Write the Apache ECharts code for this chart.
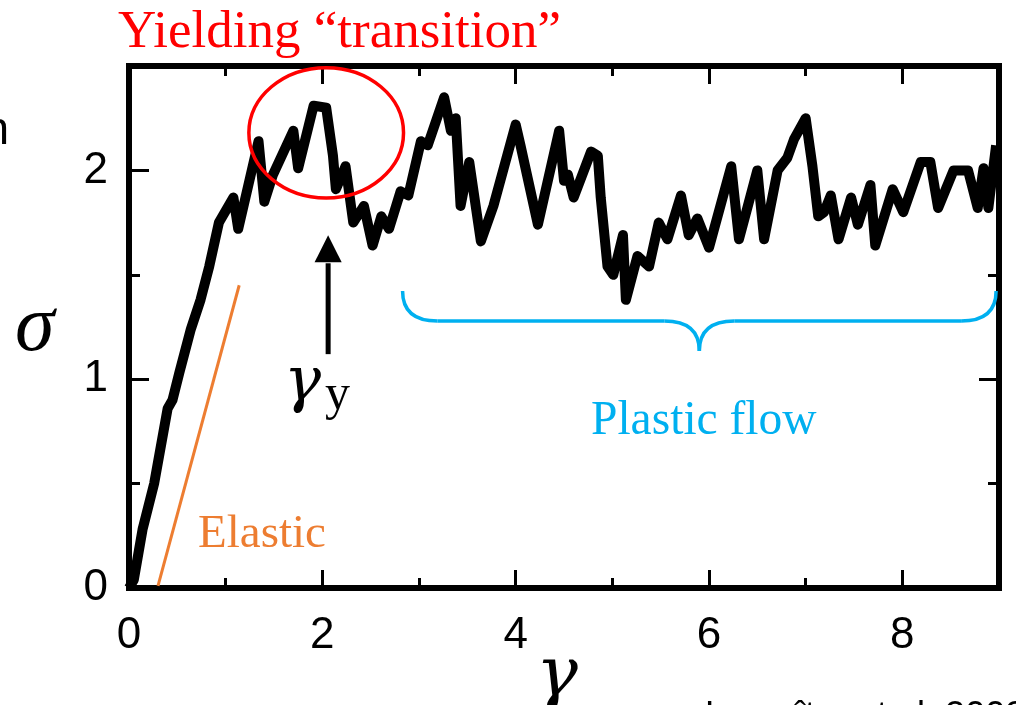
<!DOCTYPE html>
<html>
<head>
<meta charset="utf-8">
<script src="https://cdn.jsdelivr.net/npm/echarts@6/dist/echarts.min.js"></script>
<style>
html,body{margin:0;padding:0;background:#fff;}
#chart{width:1016px;height:705px;}
</style>
</head>
<body>
<div id="chart"></div>
<script>
// ---- data ----
const gamma = [0.00,0.05,0.14,0.26,0.40,0.45,0.52,0.64,0.74,0.83,0.93,1.08,1.13,1.34,1.40,1.49,1.70,1.75,1.91,2.04,2.11,2.14,2.24,2.32,2.43,2.52,2.61,2.69,2.81,2.89,3.02,3.09,3.26,3.33,3.38,3.43,3.52,3.64,3.77,4.00,4.05,4.23,4.45,4.50,4.54,4.60,4.78,4.85,4.88,4.95,5.01,5.11,5.14,5.26,5.38,5.48,5.57,5.71,5.79,5.88,6.00,6.23,6.31,6.50,6.57,6.71,6.81,6.88,7.00,7.07,7.13,7.19,7.26,7.34,7.47,7.54,7.67,7.72,7.90,8.01,8.19,8.29,8.37,8.53,8.68,8.78,8.84,8.89,8.97];
const sigma = [0.00,0.04,0.28,0.50,0.86,0.90,1.03,1.24,1.38,1.54,1.75,1.87,1.72,2.14,1.85,1.98,2.19,2.01,2.31,2.30,2.07,1.91,2.02,1.75,1.83,1.64,1.78,1.72,1.90,1.88,2.14,2.12,2.35,2.19,2.25,1.83,2.04,1.66,1.83,2.22,2.12,1.74,2.19,1.95,1.98,1.87,2.09,2.07,1.87,1.54,1.50,1.69,1.38,1.59,1.54,1.75,1.67,1.88,1.69,1.77,1.63,2.02,1.67,2.00,1.67,2.00,2.06,2.15,2.25,2.02,1.78,1.80,1.88,1.67,1.87,1.74,1.93,1.64,1.91,1.80,2.04,2.04,1.82,2.00,2.00,1.82,2.01,1.82,2.12];
const elasticGamma = [0.30, 1.14];
const elasticSigma = [0.01, 1.45];
const xTickLabels = ['0','2','4','6','8'];
const yTickLabels = ['0','1','2'];

const SANS = 'Liberation Sans, Arial, sans-serif';
const SERIF = 'Liberation Serif, Times New Roman, serif';
const GREEK = 'DejaVu Serif, Liberation Serif, serif';

const chart = echarts.init(document.getElementById('chart'), null, {renderer:'canvas'});

function xAxisDef(pos, interval, len, labels){
  return {
    type:'value', position:pos, min:0, max:9, interval:interval,
    axisLine:{show:false, onZero:false},
    splitLine:{show:false},
    axisTick:{show:true, inside:true, length:len, lineStyle:{color:'#000', width:3}},
    axisLabel:{show:labels, margin:26, fontSize:44, color:'#000', fontFamily:SANS,
      formatter:function(v){ const s=String(v); return xTickLabels.indexOf(s)>=0 ? s : ''; }}
  };
}
function yAxisDef(pos, interval, len, labels){
  return {
    type:'value', position:pos, min:0, max:2.5, interval:interval,
    axisLine:{show:false, onZero:false},
    splitLine:{show:false},
    axisTick:{show:true, inside:true, length:len, lineStyle:{color:'#000', width:3}},
    axisLabel:{show:labels, margin:21, fontSize:44, color:'#000', fontFamily:SANS,
      formatter:function(v){ const s=String(v); return yTickLabels.indexOf(s)>=0 ? s : ''; }}
  };
}

chart.setOption({
  animation:false,
  backgroundColor:'#fff',
  grid:{left:129, right:17, top:66, bottom:117, show:true, borderColor:'#000', borderWidth:6, backgroundColor:'transparent'},
  xAxis:[
    xAxisDef('bottom', 2, 18, true),
    xAxisDef('bottom', 1, 10, false),
    xAxisDef('top', 2, 18, false),
    xAxisDef('top', 1, 10, false)
  ],
  yAxis:[
    yAxisDef('left', 1, 20, true),
    yAxisDef('left', 0.5, 11, false),
    yAxisDef('right', 1, 20, false),
    yAxisDef('right', 0.5, 11, false)
  ],
  series:[
    {
      type:'line', xAxisIndex:0, yAxisIndex:0,
      data: gamma.map((g,i)=>[g, sigma[i]]),
      showSymbol:false, symbol:'none', clip:true,
      lineStyle:{color:'#000', width:10, join:'round'}, z:3
    },
    {
      type:'line', xAxisIndex:0, yAxisIndex:0,
      data: elasticGamma.map((g,i)=>[g, elasticSigma[i]]),
      showSymbol:false, symbol:'none',
      lineStyle:{color:'#ED7D31', width:3}, z:2
    }
  ]
});

// ---- annotations, anchored in data space ----
function P(g, s){ return chart.convertToPixel({xAxisIndex:0, yAxisIndex:0}, [g, s]); }

const ec = P(2.04, 2.18);
const ex = P(2.04 + 0.80, 2.18);
const ey = P(2.04, 2.18 + 0.312);

const aTip = P(2.06, 1.69);
const aBase = P(2.06, 1.56);
const aBot = P(2.06, 1.12);
const aHalf = P(2.06 + 0.14, 1.56)[0] - aBase[0];

const bL = P(2.83, 1.423);
const bR = P(8.97, 1.423);
const bMid = P(5.90, 1.279);
const bTip = P(5.90, 1.135);
const r = 35;
const BR = {stroke:'#00B0F0', lineWidth:3.5, fill:'none'};
function qc(x1,y1,cx,cy,x2,y2){ return {type:'bezierCurve', z:10, shape:{x1:x1,y1:y1,cpx1:cx,cpy1:cy,x2:x2,y2:y2}, style:Object.assign({},BR)}; }
function ln(x1,y1,x2,y2){ return {type:'line', z:10, shape:{x1:x1,y1:y1,x2:x2,y2:y2}, style:Object.assign({},BR)}; }

function txt(x, y, text, size, color, family, opts){
  return {
    type:'text', x:x, y:y, z:10,
    style:Object.assign({text:text, fontSize:size, fill:color, fontFamily:family, verticalAlign:'middle', align:'left'}, opts||{})
  };
}

chart.setOption({
  graphic:[
    {type:'ellipse', z:10, shape:{cx:ec[0], cy:ec[1], rx:ex[0]-ec[0], ry:ec[1]-ey[1]},
      style:{fill:'none', stroke:'#FF0000', lineWidth:3.5}},
    {type:'line', z:10, shape:{x1:aBot[0], y1:aBot[1], x2:aBase[0], y2:aBase[1]+1},
      style:{stroke:'#000', lineWidth:5}},
    {type:'polygon', z:10, shape:{points:[[aTip[0], aTip[1]],[aBase[0]-aHalf, aBase[1]],[aBase[0]+aHalf, aBase[1]]]},
      style:{fill:'#000'}},
    qc(bL[0], bL[1], bL[0], bMid[1], bL[0]+r, bMid[1]),
    ln(bL[0]+r, bMid[1], bMid[0]-r, bMid[1]),
    qc(bMid[0]-r, bMid[1], bMid[0], bMid[1], bMid[0], bTip[1]),
    qc(bMid[0]+r, bMid[1], bMid[0], bMid[1], bMid[0], bTip[1]),
    ln(bMid[0]+r, bMid[1], bR[0]-r, bMid[1]),
    qc(bR[0]-r, bMid[1], bR[0], bMid[1], bR[0], bR[1]),
    txt(118, 33, 'Yielding \u201Ctransition\u201D', 53, '#FF0000', SERIF),
    txt(198, 535, 'Elastic', 47, '#ED7D31', SERIF),
    txt(591, 422, 'Plastic flow', 47.5, '#00B0F0', SERIF),
    txt(284, 384, '\u03B3', 62, '#000', GREEK, {fontStyle:'italic'}),
    txt(325, 396, 'y', 50, '#000', SERIF),
    txt(15, 329, '\u03C3', 80, '#000', SERIF, {fontStyle:'italic'}),
    txt(536, 678, '\u03B3', 70, '#000', GREEK, {fontStyle:'italic'}),
    txt(9, 131, 'n', 46, '#000', SANS, {align:'right'}),
    txt(705, 717, 'Lemaître et al. 2002', 36, '#000', SANS)
  ]
});
</script>
</body>
</html>
